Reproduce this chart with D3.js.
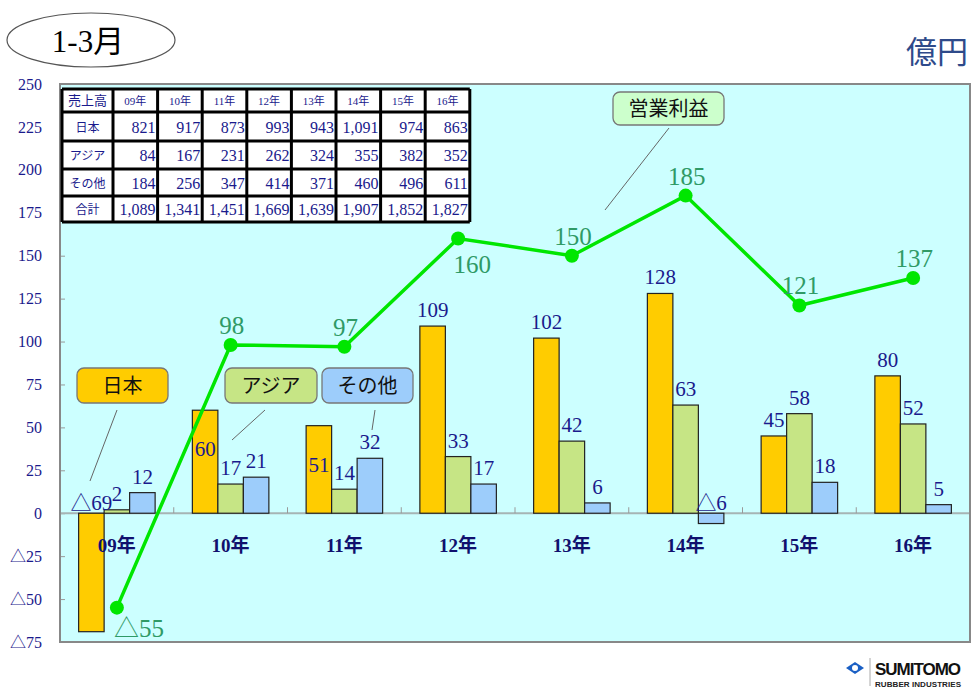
<!DOCTYPE html>
<html>
<head>
<meta charset="utf-8">
<script src="https://cdn.jsdelivr.net/npm/d3@7"></script>
<style>
  body { margin: 0; background: #fff; }
  svg { display: block; }
</style>
</head>
<body>
<div id="chart"></div>
<script>
// DATA ------------------------------------------------------------------
const years = ['09年', '10年', '11年', '12年', '13年', '14年', '15年', '16年'];
const japan = [-69, 60, 51, 109, 102, 128, 45, 80];
const asia = [2, 17, 14, 33, 42, 63, 58, 52];
const other = [12, 21, 32, 17, 6, -6, 18, 5];
const profit = [-55, 98, 97, 160, 150, 185, 121, 137];

const yTicks = [-75, -50, -25, 0, 25, 50, 75, 100, 125, 150, 175, 200, 225, 250];

const tableHead = ['売上高', '09年', '10年', '11年', '12年', '13年', '14年', '15年', '16年'];
const salesJapan = [821, 917, 873, 993, 943, 1091, 974, 863];
const salesAsia = [84, 167, 231, 262, 324, 355, 382, 352];
const salesOther = [184, 256, 347, 414, 371, 460, 496, 611];
const salesTotal = [1089, 1341, 1451, 1669, 1639, 1907, 1852, 1827];

// CHART INIT ------------------------------------------------------------
const width = 974, height = 693;
const plot = {left: 60, right: 970, top: 84, bottom: 642};

const serif = '"Liberation Serif", "Times New Roman", "Noto Sans CJK JP", serif';
const sans = '"Noto Sans CJK JP", "Noto Sans", sans-serif';
const navy = '#1a1a8c';
const green = '#2f9a66';
const fmt = v => v < 0 ? '△' + (-v) : String(v);

const svg = d3.select('#chart')
  .append('svg')
  .attr('width', width)
  .attr('height', height);

// scales
const x0 = d3.scaleBand()
  .domain(years)
  .range([plot.left, plot.right]);

const bw = x0.bandwidth();
const groupW = 76.5;
const series = [
  {key: 'japan', values: japan, color: '#ffcc00'},
  {key: 'asia', values: asia, color: '#c6e585'},
  {key: 'other', values: other, color: '#9dcdfb'}
];
const x1 = d3.scaleBand()
  .domain(series.map(s => s.key))
  .range([(bw - groupW) / 2, (bw + groupW) / 2]);

const y = d3.scaleLinear()
  .domain([-75, 250])
  .range([plot.bottom, plot.top]);

// plot background
svg.append('rect')
  .attr('x', plot.left).attr('y', plot.top)
  .attr('width', plot.right - plot.left)
  .attr('height', plot.bottom - plot.top)
  .attr('fill', '#ccffff');

// y axis
const yAxis = d3.axisLeft(y)
  .tickValues(yTicks)
  .tickSize(-5)
  .tickPadding(18)
  .tickFormat(fmt);

const yg = svg.append('g')
  .attr('class', 'axis y-axis')
  .attr('transform', 'translate(' + plot.left + ',0)')
  .call(yAxis);
yg.select('.domain').remove();
yg.selectAll('line').attr('stroke', '#999');
yg.selectAll('text')
  .attr('fill', navy)
  .style('font-family', serif)
  .style('font-size', '16px');

// zero line and category ticks
svg.append('line')
  .attr('x1', plot.left).attr('x2', plot.right)
  .attr('y1', y(0)).attr('y2', y(0))
  .attr('stroke', '#a6b4b4').attr('stroke-width', 2);

svg.selectAll('.cat-tick')
  .data(years.slice(1))
  .join('line')
  .attr('class', 'cat-tick')
  .attr('x1', d => x0(d)).attr('x2', d => x0(d))
  .attr('y1', y(0) - 6).attr('y2', y(0))
  .attr('stroke', '#999');

// bars
const groups = svg.selectAll('.group')
  .data(years)
  .join('g')
  .attr('class', 'group')
  .attr('transform', d => 'translate(' + x0(d) + ',0)');

series.forEach(s => {
  groups.append('rect')
    .attr('x', x1(s.key))
    .attr('width', x1.bandwidth())
    .attr('y', (d, i) => y(Math.max(0, s.values[i])))
    .attr('height', (d, i) => Math.abs(y(s.values[i]) - y(0)))
    .attr('fill', s.color)
    .attr('stroke', '#222')
    .attr('stroke-width', 1.2);
});

// bar value labels
const inside = {japan: [1, 2]};
series.forEach(s => {
  groups.append('text')
    .attr('x', x1(s.key) + x1.bandwidth() / 2)
    .attr('y', (d, i) => {
      const v = s.values[i];
      if (v < 0) return y(0) - 3;
      if ((inside[s.key] || []).includes(i)) return y(v) + 46;
      return y(v) - 9;
    })
    .attr('text-anchor', 'middle')
    .attr('fill', navy)
    .style('font-family', serif)
    .style('font-size', '21px')
    .text((d, i) => fmt(s.values[i]));
});

// category labels
svg.selectAll('.cat-label')
  .data(years)
  .join('text')
  .attr('class', 'cat-label')
  .attr('x', d => x0(d) + bw / 2)
  .attr('y', 552)
  .attr('text-anchor', 'middle')
  .attr('fill', '#10106e')
  .style('font-family', serif)
  .style('font-weight', 'bold')
  .style('font-size', '19px')
  .text(d => d);

// profit line
const cx = i => x0(years[i]) + bw / 2;
const line = d3.line()
  .x((d, i) => cx(i))
  .y(d => y(d));

svg.append('path')
  .datum(profit)
  .attr('d', line)
  .attr('fill', 'none')
  .attr('stroke', '#00e600')
  .attr('stroke-width', 3.5);

svg.selectAll('.pt')
  .data(profit)
  .join('circle')
  .attr('class', 'pt')
  .attr('cx', (d, i) => cx(i))
  .attr('cy', d => y(d))
  .attr('r', 7)
  .attr('fill', '#00e600');

svg.selectAll('.pt-label')
  .data(profit)
  .join('text')
  .attr('class', 'pt-label')
  .attr('x', (d, i) => i === 0 ? cx(i) - 3 : i === 3 ? cx(i) + 14 : cx(i) + 1)
  .attr('y', (d, i) => i === 0 ? y(d) + 29 : i === 3 ? y(d) + 34 : y(d) - 11)
  .attr('text-anchor', (d, i) => i === 0 ? 'start' : 'middle')
  .attr('fill', green)
  .style('font-family', serif)
  .style('font-size', '25px')
  .text(d => fmt(d));

// plot border
svg.append('rect')
  .attr('x', plot.left).attr('y', plot.top)
  .attr('width', plot.right - plot.left)
  .attr('height', plot.bottom - plot.top)
  .attr('fill', 'none')
  .attr('stroke', '#888')
  .attr('stroke-width', 2);

// callouts
const callouts = [
  {text: '日本', x: 77, y: 368, w: 91, h: 35, fill: '#ffcc00', lx1: 117, ly1: 410, lx2: 90, ly2: 481},
  {text: 'アジア', x: 225, y: 368, w: 92, h: 35, fill: '#c6e585', lx1: 265, ly1: 410, lx2: 232, ly2: 440},
  {text: 'その他', x: 322, y: 368, w: 91, h: 35, fill: '#9dcdfb', lx1: 375, ly1: 410, lx2: 372, ly2: 430},
  {text: '営業利益', x: 613, y: 92, w: 111, h: 33, fill: '#ccffcc', lx1: 669, ly1: 128, lx2: 605, ly2: 210}
];
callouts.forEach(c => {
  svg.append('line')
    .attr('x1', c.lx1).attr('y1', c.ly1)
    .attr('x2', c.lx2).attr('y2', c.ly2)
    .attr('stroke', '#666').attr('stroke-width', 1);
  svg.append('rect')
    .attr('x', c.x).attr('y', c.y)
    .attr('width', c.w).attr('height', c.h)
    .attr('rx', 7)
    .attr('fill', c.fill)
    .attr('stroke', '#777').attr('stroke-width', 1.3);
  svg.append('text')
    .attr('x', c.x + c.w / 2).attr('y', c.y + c.h / 2 + 7)
    .attr('text-anchor', 'middle')
    .attr('fill', '#111')
    .style('font-family', sans)
    .style('font-size', '20px')
    .text(c.text);
});

// sales table
const tbl = {x: 62, y: 89, firstW: 51, colW: 44.6, rowH: [23, 29, 28, 27, 26]};
const rows = [
  {label: '日本', values: salesJapan},
  {label: 'アジア', values: salesAsia},
  {label: 'その他', values: salesOther},
  {label: '合計', values: salesTotal}
];
const tblW = tbl.firstW + tbl.colW * years.length;
const rowY = [tbl.y];
tbl.rowH.forEach(h => rowY.push(rowY[rowY.length - 1] + h));
const colX = [tbl.x, tbl.x + tbl.firstW];
for (let i = 1; i <= years.length; i++) colX.push(tbl.x + tbl.firstW + tbl.colW * i);

const tg = svg.append('g').attr('class', 'table');
tg.append('rect')
  .attr('x', tbl.x).attr('y', tbl.y)
  .attr('width', tblW).attr('height', rowY[rowY.length - 1] - tbl.y)
  .attr('fill', '#fff');

const num = d3.format(',');
tableHead.forEach((h, j) => {
  tg.append('text')
    .attr('x', j === 0 ? tbl.x + tbl.firstW / 2 : colX[j] + tbl.colW / 2)
    .attr('y', rowY[0] + 16)
    .attr('text-anchor', 'middle')
    .attr('fill', navy)
    .style('font-family', j === 0 ? sans : serif)
    .style('font-size', j === 0 ? '13px' : '11px')
    .text(h);
});
rows.forEach((r, i) => {
  const cyText = (rowY[i + 1] + rowY[i + 2]) / 2 + 6;
  tg.append('text')
    .attr('x', tbl.x + tbl.firstW / 2)
    .attr('y', cyText - 1)
    .attr('text-anchor', 'middle')
    .attr('fill', navy)
    .style('font-family', sans)
    .style('font-size', '12px')
    .text(r.label);
  r.values.forEach((v, j) => {
    tg.append('text')
      .attr('x', colX[j + 2] - 2)
      .attr('y', cyText)
      .attr('text-anchor', 'end')
      .attr('fill', navy)
      .style('font-family', serif)
      .style('font-size', '16px')
      .text(num(v));
  });
});
rowY.forEach(yy => {
  tg.append('line')
    .attr('x1', tbl.x).attr('x2', tbl.x + tblW)
    .attr('y1', yy).attr('y2', yy)
    .attr('stroke', '#000').attr('stroke-width', 3);
});
colX.forEach(xx => {
  tg.append('line')
    .attr('x1', xx).attr('x2', xx)
    .attr('y1', tbl.y).attr('y2', rowY[rowY.length - 1])
    .attr('stroke', '#000').attr('stroke-width', 3);
});

// title
svg.append('ellipse')
  .attr('cx', 91).attr('cy', 40)
  .attr('rx', 84).attr('ry', 27)
  .attr('fill', '#fff')
  .attr('stroke', '#555').attr('stroke-width', 1.2);
svg.append('text')
  .attr('x', 88).attr('y', 52)
  .attr('text-anchor', 'middle')
  .attr('fill', '#000')
  .style('font-family', serif)
  .style('font-size', '31px')
  .text('1-3月');

svg.append('text')
  .attr('x', 968).attr('y', 63)
  .attr('text-anchor', 'end')
  .attr('fill', '#2e4a8a')
  .style('font-family', sans)
  .style('font-size', '31px')
  .text('億円');

// logo
const logo = svg.append('g').attr('transform', 'translate(855,668)');
logo.append('path')
  .attr('d', 'M-9,0 L0,-6 L9,0 L0,6 Z')
  .attr('fill', '#1a5fc4');
logo.append('circle').attr('r', 3).attr('fill', '#fff');
logo.append('line')
  .attr('x1', 15).attr('x2', 15).attr('y1', -10).attr('y2', 18)
  .attr('stroke', '#aaa');
logo.append('text')
  .attr('x', 20).attr('y', 7)
  .attr('fill', '#111')
  .style('font-family', '"Liberation Sans Narrow", "Liberation Sans", sans-serif')
  .style('font-weight', 'bold')
  .style('font-size', '17px')
  .attr('textLength', 86)
  .text('SUMITOMO');
logo.append('text')
  .attr('x', 20).attr('y', 19)
  .attr('fill', '#222')
  .style('font-family', '"Liberation Sans Narrow", "Liberation Sans", sans-serif')
  .style('font-weight', 'bold')
  .style('font-size', '8px')
  .attr('textLength', 86)
  .text('RUBBER INDUSTRIES');
</script>
</body>
</html>
